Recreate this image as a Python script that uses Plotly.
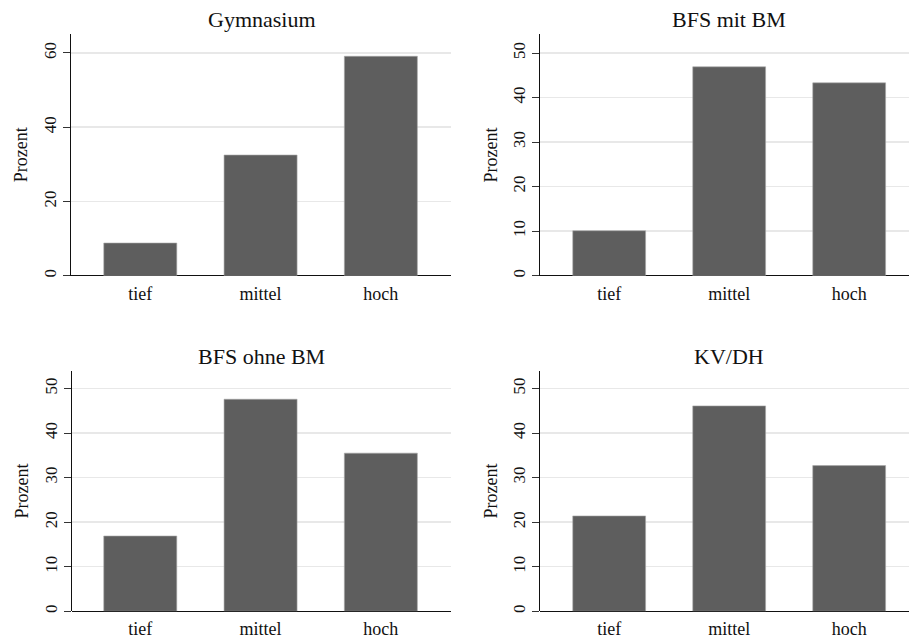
import plotly.graph_objects as go

categories = ["tief", "mittel", "hoch"]
titles = ["Gymnasium", "BFS mit BM", "BFS ohne BM", "KV/DH"]
gym = [8.8, 32.5, 59.1]
bfs_mit = [10.1, 46.9, 43.3]
bfs_ohne = [16.9, 47.6, 35.5]
kvdh = [21.4, 46.1, 32.7]
series = [gym, bfs_mit, bfs_ohne, kvdh]
ticks_gym = [0, 20, 40, 60]
ticks_other = [0, 10, 20, 30, 40, 50]

W, H = 909, 644
# panel pixel boxes: (left, right, top, bottom)
boxes = [
    (71.0, 450.5, 34.0, 275.7),
    (540.3, 909.0, 34.3, 275.7),
    (71.7, 450.5, 370.7, 611.3),
    (540.3, 909.0, 370.7, 611.3),
]
yranges = [[0, 65.1], [0, 54.2], [0, 54.0], [0, 54.0]]
xranges = [[-0.576, 2.579], [-0.574, 2.4985], [-0.570, 2.579], [-0.574, 2.4985]]
title_pos = [(261.5, 20), (729.0, 20), (261.5, 356), (729.0, 356)]

fig = go.Figure()
font_family = "Liberation Serif"
annotations = []
for i, (vals, box) in enumerate(zip(series, boxes)):
    n = "" if i == 0 else str(i + 1)
    l, r, t, b = box
    fig.add_trace(go.Bar(
        x=list(range(len(categories))), y=vals,
        width=0.607,
        marker=dict(color="#5e5e5e", line=dict(color="#a8a8a8", width=0.6)),
        xaxis="x" + n, yaxis="y" + n, showlegend=False, hoverinfo="skip",
    ))
    tv = ticks_gym if i == 0 else ticks_other
    fig.layout["xaxis" + n] = dict(
        domain=[l / W, r / W], anchor="y" + n, range=xranges[i],
        tickmode="array", tickvals=list(range(len(categories))), ticktext=categories,
        showgrid=False, zeroline=False, showline=False, ticks="",
        tickfont=dict(family=font_family, size=18, color="#111"),
        ticklabelstandoff=5,
        fixedrange=True, automargin=False,
    )
    fig.layout["yaxis" + n] = dict(
        domain=[1 - b / H, 1 - t / H], anchor="x" + n, range=yranges[i],
        tickmode="array", tickvals=tv, ticktext=[str(v) for v in tv],
        tickangle=-90, ticks="outside", ticklen=7, tickcolor="#333", tickwidth=1,
        showline=True, linecolor="#111", linewidth=1.2,
        showgrid=True, gridcolor="#e8e8e8", gridwidth=1.5,
        zeroline=True, zerolinecolor="#111", zerolinewidth=1.2,
        tickfont=dict(family=font_family, size=17, color="#111"),
        title=dict(text="Prozent", font=dict(family=font_family, size=18, color="#111"), standoff=8),
        fixedrange=True, automargin=False,
    )
    tx, ty = title_pos[i]
    annotations.append(dict(
        text=titles[i], x=tx / W, y=1 - ty / H, xref="paper", yref="paper",
        xanchor="center", yanchor="middle", showarrow=False,
        font=dict(family=font_family, size=22, color="#111"),
    ))

fig.update_layout(
    width=W, height=H,
    margin=dict(l=0, r=0, t=0, b=0),
    paper_bgcolor="white", plot_bgcolor="white",
    annotations=annotations,
    bargap=0,
    hovermode=False,
)
fig.write_html(
    "out.html",
    config={"displayModeBar": False, "staticPlot": True},
    post_script="document.body.style.margin='0';document.body.style.overflow='hidden';",
)
